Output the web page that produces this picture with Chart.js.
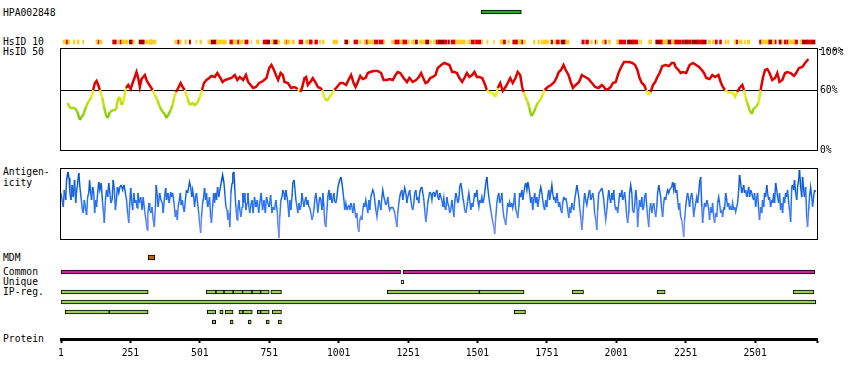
<!DOCTYPE html>
<html><head><meta charset="utf-8">
<script src="https://cdn.jsdelivr.net/npm/chart.js@4.4.1/dist/chart.umd.min.js"></script>
<style>
html,body{margin:0;padding:0;background:#fff;}
body{position:relative;width:850px;height:380px;overflow:hidden;font-family:'DejaVu Sans Mono',monospace;font-size:9.7px;color:#000;}
.lbl{position:absolute;left:3px;line-height:12px;white-space:pre;}
canvas{position:absolute;left:0;}
.dots{position:absolute;left:819px;top:49px;width:26px;height:1px;background:repeating-linear-gradient(90deg,#000 0 3px,transparent 3px 7px);}
</style></head><body>
<div class="lbl" style="top:7px">HPA002848</div>
<div class="lbl" style="top:36px">HsID 10</div>
<div class="lbl" style="top:46px">HsID 50</div>
<div class="lbl" style="top:166px">Antigen-</div>
<div class="lbl" style="top:177px">icity</div>
<div class="lbl" style="top:252px">MDM</div>
<div class="lbl" style="top:266px">Common</div>
<div class="lbl" style="top:276px">Unique</div>
<div class="lbl" style="top:286px">IP-reg.</div>
<div class="lbl" style="top:333px">Protein</div>
<div class="dots"></div>
<script>
// ---------- DATA (residue positions and values) ----------
const PROTEIN_END = 2724;
const proteinTicks = [1,251,501,751,1001,1251,1501,1751,2001,2251,2501];
const hsid50Ticks = [0,60,100];

const antigenRegion = [[1514,1659]];

const hsid10Yellow = [[9,18],[26,33],[45,51],[60,66],[79,83],[127,132],[139,149],[204,210],[221,242],[261,266],[305,314],[317,343],[411,417],[429,435],[447,453],[487,489],[501,507],[530,537],[561,597],[621,633],[643,657],[686,688],[705,715],[759,765],[782,789],[804,811],[815,826],[833,842],[882,894],[932,936],[942,949],[980,997],[1038,1040],[1076,1082],[1091,1098],[1106,1127],[1163,1167],[1192,1199],[1222,1230],[1250,1256],[1264,1275],[1292,1311],[1330,1335],[1343,1350],[1422,1436],[1438,1458],[1466,1475],[1517,1520],[1535,1539],[1559,1562],[1582,1592],[1610,1616],[1647,1658],[1667,1674],[1703,1708],[1718,1724],[1730,1734],[1736,1757],[1778,1783],[1819,1831],[1909,1915],[1930,1934],[1949,1957],[1973,1980],[2002,2009],[2083,2085],[2089,2093],[2117,2129],[2169,2185],[2200,2209],[2332,2341],[2347,2353],[2392,2397],[2402,2407],[2426,2431],[2443,2455],[2463,2467],[2473,2482],[2524,2548],[2563,2569],[2597,2601],[2621,2643],[2663,2669]];
const hsid10Red = [[19,25],[133,137],[187,195],[213,218],[324,327],[421,427],[463,468],[609,621],[637,643],[663,675],[729,740],[811,814],[858,872],[899,906],[915,925],[1056,1070],[1098,1106],[1127,1142],[1146,1163],[1203,1220],[1230,1247],[1352,1357],[1382,1390],[1406,1422],[1478,1490],[1494,1514],[1592,1602],[1628,1640],[1658,1664],[1766,1772],[1784,1796],[1877,1886],[1891,1901],[1925,1927],[1959,1965],[2009,2035],[2059,2078],[2161,2169],[2209,2233],[2236,2245],[2257,2272],[2293,2311],[2357,2365],[2373,2380],[2431,2438],[2517,2524],[2572,2577],[2606,2613],[2643,2654],[2689,2705]];
const hsid10Dark = [[196,200],[247,258],[282,301],[541,561],[740,753],[765,782],[894,899],[1023,1034],[1275,1285],[1314,1326],[1359,1382],[1394,1400],[1640,1647],[1802,1818],[2041,2059],[2143,2161],[2185,2200],[2247,2257],[2275,2293],[2311,2325],[2548,2563],[2587,2597],[2616,2621],[2669,2689],[2705,2717]];

const hsid50 = [[25,47],[33,42],[51,42],[60,38],[69,30],[75,33],[81,35],[91,43],[99,48],[111,53],[117,60],[123,67],[129,69],[135,65],[141,60],[150,52],[156,43],[163,35],[169,32],[177,38],[189,40],[199,40],[207,52],[213,53],[219,45],[225,48],[235,62],[243,65],[252,61],[259,67],[267,73],[273,78],[279,72],[285,63],[291,71],[297,73],[303,75],[309,70],[315,67],[324,63],[331,60],[339,55],[348,50],[357,43],[367,38],[375,36],[381,32],[387,35],[396,40],[403,45],[408,52],[415,58],[423,62],[432,67],[439,63],[447,60],[456,52],[465,45],[475,47],[483,45],[492,47],[501,53],[509,60],[516,67],[525,70],[535,72],[543,74],[555,73],[564,77],[573,73],[583,68],[591,70],[603,71],[615,72],[627,75],[636,70],[645,73],[657,70],[667,75],[675,68],[684,65],[693,62],[703,63],[715,67],[729,69],[741,72],[751,82],[759,85],[768,80],[775,75],[783,70],[792,77],
[800,75],[806,68],[818,67],[830,62],[842,63],[854,61],[863,58],[870,63],[878,72],[884,73],[890,65],[899,68],[908,72],[917,68],[926,63],[935,62],[942,60],[950,52],[959,49],[968,53],[978,57],[986,60],[995,63],[1007,67],[1016,67],[1028,65],[1038,71],[1046,75],[1055,67],[1062,63],[1070,68],[1079,74],[1088,71],[1098,72],[1106,77],[1115,78],[1127,79],[1142,79],[1154,77],[1163,70],[1175,70],[1184,71],[1196,70],[1206,75],[1214,78],[1223,77],[1235,72],[1247,68],[1256,72],[1268,68],[1280,70],[1290,73],[1298,77],[1304,73],[1314,67],[1322,68],[1331,72],[1340,73],[1350,75],[1358,82],[1370,85],[1382,87],[1391,86],[1400,85],[1410,78],[1418,78],[1427,77],[1436,72],[1446,68],[1454,72],[1463,77],[1472,73],[1482,75],[1490,78],[1499,73],[1508,73],[1518,72],[1526,67],[1535,60],[1544,57],[1556,57],[1566,53],[1574,62],[1583,67],[1592,59],[1602,63],[1610,67],[1619,72],[1628,67],[1638,72],[1646,78],[1655,75],[1662,63],[1667,58],[1674,53],[1682,48],[1688,42],[1695,34],[1703,37],[1710,42],[1718,47],[1727,50],[1736,55],[1743,60],[1754,63],[1766,65],[1778,68],[1787,73],[1794,78],[1802,80],[1811,85],
[1819,80],[1829,75],[1837,68],[1845,62],[1855,65],[1867,68],[1877,75],[1889,73],[1901,71],[1913,67],[1925,63],[1937,62],[1949,65],[1957,63],[1963,60],[1973,61],[1981,63],[1989,67],[1999,68],[2009,77],[2017,82],[2029,88],[2047,88],[2059,87],[2069,85],[2077,80],[2085,72],[2093,67],[2101,65],[2109,60],[2117,55],[2125,58],[2133,65],[2141,68],[2149,73],[2157,77],[2167,84],[2179,85],[2191,84],[2201,87],[2209,87],[2215,83],[2225,80],[2233,77],[2241,78],[2253,77],[2265,85],[2277,87],[2289,85],[2299,83],[2309,80],[2317,77],[2325,72],[2337,71],[2347,75],[2357,73],[2369,75],[2377,68],[2385,63],[2393,60],[2401,58],[2409,57],[2419,58],[2429,53],[2437,58],[2445,62],[2455,65],[2461,60],[2467,52],[2473,47],[2481,40],[2489,36],[2497,42],[2505,43],[2513,47],[2521,60],[2529,72],[2537,80],[2545,81],[2553,77],[2563,70],[2573,72],[2581,77],[2589,68],[2599,70],[2609,77],[2617,78],[2629,77],[2641,74],[2649,77],[2659,82],[2671,83],[2681,87],[2693,91]];

const antigenicity = [[1,47],[5,40],[9,33],[13,50],[18,40],[21,60],[26,68],[30,62],[33,47],[37,40],[41,55],[45,43],[50,60],[54,37],[57,48],[61,57],[65,67],[69,53],[73,43],[78,30],[81,27],[85,40],[90,30],[93,25],[97,43],[101,47],[104,60],[108,47],[111,40],[115,53],[119,47],[122,27],[126,40],[129,33],[133,47],[137,58],[141,50],[146,57],[150,40],[153,30],[157,17],[161,40],[165,50],[169,43],[173,57],[177,47],[181,37],[185,40],[189,60],[193,50],[197,30],[200,38],[204,53],[209,47],[213,53],[218,55],[223,50],[228,55],[233,47],[237,40],[241,27],[245,17],[248,33],[252,52],[255,40],[259,30],[263,47],[267,37],[271,40],[275,32],[278,47],[283,37],[288,43],[293,30],[297,43],[302,30],[307,20],[311,10],[314,27],[318,37],[321,30],[325,27],[329,33],[333,20],[337,13],[341,33],[344,55],[348,43],[351,33],[356,47],[361,40],[366,37],[369,27],[374,43],[378,52],[381,40],[386,47],[391,37],[396,48],[399,43],[403,47],[408,37],[413,23],[416,30],[420,20],[423,33],[427,40],[431,47],[434,35],[438,40],[441,33],[445,28],[449,40],[453,50],[457,47],[461,53],[464,58],[468,53],[472,43],[475,50],[479,43],[482,33],[486,43],[489,47],[493,37],[497,27],[500,17],[504,7],[507,23],[511,37],[515,43],[518,52],[522,40],[525,47],[529,33],[533,37],[536,43],[540,23],[543,17],[547,33],[551,47],[554,37],[558,47],[561,40],[565,53],[569,43],[573,50],[578,57],[583,65],[588,57],[591,47],[595,33],[599,30],[602,20],[606,27],[609,13],[613,47],[617,57],[620,67],[624,68],[627,50],[631,33],[635,20],[638,30],[642,40],[645,30],[649,23],[653,33],[656,47],[660,37],[663,47],[667,30],[671,37],[674,47],[678,33],[681,27],[685,35],[689,40],[693,27],[698,43],[703,33],[708,40],[713,27],[717,37],[722,47],[727,30],[732,40],[737,27],[741,43],[746,37],[751,33],[756,45],[761,27],[765,33],[770,30],[775,40],[780,28],[783,13],[786,2],[789,23],[793,40],[797,43],
[800,50],[804,47],[807,40],[811,50],[815,43],[818,37],[822,23],[825,40],[829,30],[833,43],[836,57],[840,60],[843,53],[847,40],[851,33],[854,27],[858,37],[861,30],[865,33],[869,47],[872,40],[876,33],[879,38],[883,43],[887,35],[890,40],[894,33],[897,32],[901,27],[905,20],[908,23],[912,30],[915,40],[919,47],[923,37],[926,27],[930,37],[933,43],[937,40],[941,30],[944,47],[948,33],[951,17],[955,13],[959,30],[962,43],[966,50],[969,40],[973,47],[977,37],[980,40],[984,47],[987,38],[991,37],[995,43],[998,52],[1002,57],[1005,60],[1009,63],[1013,57],[1016,50],[1020,40],[1023,30],[1027,37],[1031,30],[1034,33],[1038,35],[1041,30],[1045,37],[1049,33],[1052,27],[1056,37],[1059,30],[1063,22],[1067,27],[1070,13],[1074,8],[1077,20],[1081,23],[1085,20],[1088,30],[1092,37],[1095,33],[1099,40],[1103,33],[1106,27],[1110,40],[1113,30],[1117,43],[1121,47],[1124,50],[1128,47],[1131,40],[1135,30],[1139,23],[1142,30],[1146,40],[1149,37],[1153,30],[1157,43],[1160,50],[1164,43],[1167,40],[1171,35],[1175,37],[1178,43],[1182,33],[1185,30],[1189,33],[1193,32],[1196,33],[1200,30],[1203,27],[1207,20],[1211,13],[1214,27],[1218,37],[1221,43],[1225,48],[1229,50],[1232,40],[1236,47],[1239,52],[1243,47],[1247,37],[1250,43],[1254,47],[1257,50],[1261,40],[1265,33],[1268,30],[1272,37],[1275,47],[1279,50],[1283,40],[1286,43],[1290,37],[1293,47],[1297,52],[1301,53],[1304,47],[1308,40],[1311,30],[1315,18],[1319,27],[1322,37],[1326,43],[1329,48],[1333,47],[1337,40],[1340,47],[1344,48],[1347,43],[1351,47],[1355,50],[1358,43],[1362,40],[1365,47],[1369,43],[1373,40],[1376,33],[1380,42],[1383,33],[1387,30],[1391,43],[1394,37],[1398,33],[1401,27],[1405,30],[1409,40],[1412,33],[1416,23],[1419,37],[1423,47],[1427,43],[1430,37],[1434,40],[1437,53],[1441,57],[1445,50],[1448,43],[1452,37],[1455,30],[1459,27],[1463,33],[1466,40],[1470,47],[1473,40],[1477,30],[1481,37],[1484,33],[1488,40],[1491,47],[1495,43],[1499,50],[1502,40],[1506,33],[1509,40],[1513,37],[1517,43],[1520,37],[1524,40],[1527,47],[1531,57],[1535,63],[1538,53],[1542,43],[1545,37],[1549,30],[1553,23],[1556,18],[1560,13],[1563,6],[1567,23],[1571,37],[1574,43],[1578,47],[1581,37],[1585,40],[1589,47],[1592,33],[1596,23],[1599,20],[1603,15],[1607,27],[1610,37],[1614,33],[1617,38],[1621,33],[1625,37],[1628,32],[1632,37],[1635,47],[1639,30],[1643,27],[1646,22],[1650,33],[1653,47],[1657,43],[1661,50],[1664,40],[1668,47],[1671,53],[1675,57],[1679,50],[1682,58],[1686,53],[1689,47],[1693,37],[1697,43],[1700,30],[1704,40],[1707,47],[1711,37],[1715,43],[1718,33],[1722,40],[1725,47],[1729,53],[1733,47],[1736,40],[1740,33],[1743,30],[1747,40],[1751,33],[1754,43],[1758,50],[1761,40],[1765,47],[1769,55],[1772,47],[1776,40],[1779,43],[1783,37],[1787,47],[1790,40],[1794,33],[1797,38],[1801,30],[1805,27],[1808,37],[1812,43],[1815,40],
[1819,42],[1823,37],[1826,30],[1830,22],[1833,33],[1837,27],[1841,37],[1844,33],[1848,30],[1851,40],[1855,47],[1859,55],[1862,50],[1866,43],[1869,33],[1873,23],[1877,10],[1880,20],[1884,37],[1887,47],[1891,40],[1895,35],[1898,40],[1902,47],[1905,50],[1909,40],[1913,43],[1916,47],[1920,40],[1923,27],[1927,20],[1931,10],[1934,30],[1938,47],[1941,48],[1945,50],[1949,52],[1952,48],[1956,40],[1959,30],[1963,20],[1967,30],[1970,40],[1974,50],[1977,43],[1981,37],[1985,47],[1988,40],[1992,50],[1995,37],[1999,30],[2003,33],[2006,27],[2010,37],[2013,47],[2017,43],[2021,50],[2024,40],[2028,43],[2031,48],[2035,37],[2039,23],[2042,17],[2046,27],[2049,47],[2053,55],[2057,47],[2060,30],[2064,27],[2067,33],[2071,50],[2075,40],[2078,13],[2082,30],[2085,40],[2089,33],[2093,43],[2096,30],[2100,33],[2103,43],[2107,47],[2111,33],[2114,23],[2118,13],[2121,30],[2125,37],[2129,27],[2132,33],[2136,37],[2139,30],[2143,23],[2147,33],[2150,47],[2154,55],[2157,50],[2161,43],[2165,30],[2168,23],[2172,37],[2175,43],[2179,40],[2183,47],[2186,50],[2190,47],[2193,50],[2197,52],[2201,53],[2204,58],[2208,50],[2211,57],[2215,47],[2219,50],[2222,40],[2226,30],[2229,37],[2233,23],[2237,20],[2240,13],[2244,3],[2247,20],[2251,33],[2255,43],[2258,47],[2262,40],[2265,33],[2269,43],[2273,47],[2276,40],[2280,23],[2283,30],[2287,37],[2291,43],[2294,37],[2298,47],[2301,57],[2305,63],[2309,33],[2312,17],[2316,30],[2319,37],[2323,33],[2327,40],[2330,37],[2334,30],[2337,20],[2341,33],[2345,27],[2348,37],[2352,23],[2355,17],[2359,27],[2363,23],[2366,37],[2370,43],[2373,37],[2377,27],[2381,30],[2384,23],[2388,33],[2391,30],[2395,47],[2399,40],[2402,33],[2406,37],[2409,30],[2413,33],[2417,30],[2420,37],[2424,30],[2427,33],[2431,28],[2435,33],[2438,37],[2442,50],[2445,65],[2449,57],[2453,47],[2456,50],[2460,55],[2463,47],[2467,50],[2471,43],[2474,47],[2478,53],[2481,43],[2485,50],[2489,47],[2492,43],[2496,40],[2499,47],[2503,33],[2507,42],[2510,47],[2514,30],[2517,20],[2521,33],[2525,27],[2528,40],[2532,33],[2535,47],[2539,43],[2543,55],[2546,47],[2550,40],[2553,43],[2557,33],[2561,40],[2564,37],[2568,47],[2571,37],[2575,57],[2579,50],[2582,43],[2586,37],[2589,47],[2593,30],[2597,37],[2600,27],[2604,43],[2607,37],[2611,47],[2615,43],[2618,50],[2622,37],[2625,30],[2629,18],[2633,53],[2636,55],[2640,50],[2643,60],[2647,47],[2651,40],[2654,53],[2658,60],[2661,70],[2665,53],[2669,43],[2672,63],[2676,50],[2679,43],[2683,53],[2687,23],[2690,13],[2694,30],[2697,43],[2701,53],[2705,43],[2708,33],[2712,43],[2715,50],[2719,48]];

const mdm = [[315,339]];
const common = [[1,1224],[1233,2716]];
const unique = [[1226,1235]];
const ipReg1 = [[1,315],[524,559],[559,588],[588,621],[621,655],[655,689],[689,720],[720,751],[757,795],[1176,1508],[1508,1669],[1842,1883],[2148,2177],[2638,2713]];
const ipReg2 = [[1,2720]];
const ipReg3 = [[16,175],[175,315],[528,558],[573,585],[592,621],[642,656],[656,690],[708,720],[720,751],[762,795],[1633,1674]];
const ipReg4 = [[546,558],[610,621],[675,686],[740,751],[783,795]];

// ---------- RENDERING ----------
const FONT = {family: "'DejaVu Sans Mono', monospace", size: 9.7};
const PAD_L = 61, PAD_R = 33;

function addCanvas(top, h) {
  const c = document.createElement('canvas');
  c.width = 850; c.height = h;
  c.style.top = top + 'px'; c.style.width = '850px'; c.style.height = h + 'px';
  document.body.appendChild(c);
  return c;
}
function xScale() { return {type: 'linear', min: 1, max: PROTEIN_END, display: false}; }
const basePlugins = {legend: {display: false}, tooltip: {enabled: false}};

const boxPlugin = {
  id: 'box',
  afterDatasetsDraw(chart, args, opts) {
    if (!opts || !opts.on) return;
    const {ctx, chartArea: a} = chart;
    ctx.save();
    ctx.strokeStyle = '#000'; ctx.lineWidth = 1;
    ctx.strokeRect(a.left - 0.5, a.top - 0.5, a.right - a.left + 1, a.bottom - a.top + 1);
    ctx.restore();
  }
};

function segs(list, row, color, opt) {
  return Object.assign({
    data: list.map(([s, e]) => ({x: [s, e], y: row})),
    backgroundColor: color,
    borderColor: '#000',
    borderWidth: 1,
    borderSkipped: false,
    barThickness: 4,
    grouped: false
  }, opt || {});
}

function trackChart(top, h, labels, datasets) {
  return new Chart(addCanvas(top, h), {
    type: 'bar',
    data: {labels, datasets},
    options: {
      indexAxis: 'y', responsive: false, animation: false, events: [],
      layout: {padding: {left: PAD_L, right: PAD_R, top: 0, bottom: 0}},
      scales: {x: xScale(), y: {type: 'category', display: false}},
      plugins: basePlugins
    }
  });
}

// antigen (PrEST) region bar
trackChart(8, 8, ['antigen'], [segs(antigenRegion, 'antigen', '#22aa22')]);

// HsID 10 heat strip
trackChart(38, 8, ['HsID 10'], [
  segs(hsid10Yellow, 'HsID 10', '#ffcc22', {borderWidth: 0}),
  segs(hsid10Red, 'HsID 10', '#e00000', {borderWidth: 0}),
  segs(hsid10Dark, 'HsID 10', '#a00000', {borderWidth: 0})
]);

function lerp(a, b, t) { return a.map((v, i) => Math.round(v + (b[i] - v) * t)); }
function hsidColor(v) {
  if (v >= 60) return '#e00000';
  const t = Math.max(0, Math.min(1, (v - 30) / 28));
  return 'rgb(' + lerp([110, 200, 0], [240, 240, 30], t) + ')';
}
function agColor(v) {
  if (v <= 35) return 'rgb(' + lerp([160, 150, 255], [40, 115, 245], Math.max(0, v) / 35) + ')';
  return 'rgb(' + lerp([40, 115, 245], [0, 80, 200], Math.min(1, (v - 35) / 30)) + ')';
}

// HsID 50 panel
new Chart(addCanvas(39, 121), {
  type: 'line',
  data: {datasets: [{
    data: hsid50.map(([x, y]) => ({x, y})),
    borderWidth: 2.5, pointRadius: 0, borderColor: '#e00000', tension: 0, fill: false,
    segment: {borderColor: c => hsidColor((c.p0.parsed.y + c.p1.parsed.y) / 2)}
  }]},
  options: {
    responsive: false, animation: false, events: [],
    layout: {padding: {left: PAD_L, right: 0, top: 10, bottom: 10}},
    scales: {
      x: xScale(),
      y: {
        position: 'right', min: 0, max: 101,
        afterBuildTicks: s => { s.ticks = hsid50Ticks.map(v => ({value: v})); },
        afterFit: s => { s.width = PAD_R; },
        ticks: {
          color: '#000', padding: 3,
          // the top label sits just inside the box, as in the original
          font: c => (c.tick && c.tick.value === 100) ? Object.assign({}, FONT, {lineHeight: 0.557}) : FONT,
          callback: v => v === 100 ? ['', v + '%'] : v + '%'
        },
        grid: {drawTicks: false, lineWidth: 1, color: c => (c.tick && c.tick.value === 60) ? '#000' : 'rgba(0,0,0,0)'},
        border: {display: false}
      }
    },
    plugins: Object.assign({box: {on: true}}, basePlugins)
  },
  plugins: [boxPlugin]
});

// Antigenicity panel
new Chart(addCanvas(159, 90), {
  type: 'line',
  data: {datasets: [{
    data: antigenicity.map(([x, y]) => ({x, y})),
    borderWidth: 1.5, pointRadius: 0, borderColor: '#2a75f0', tension: 0, fill: false,
    segment: {borderColor: c => agColor((c.p0.parsed.y + c.p1.parsed.y) / 2)}
  }]},
  options: {
    responsive: false, animation: false, events: [],
    layout: {padding: {left: PAD_L, right: PAD_R, top: 10, bottom: 10}},
    scales: {x: xScale(), y: {min: 1, max: 71, display: false}},
    plugins: Object.assign({box: {on: true}}, basePlugins)
  },
  plugins: [boxPlugin]
});

// MDM
trackChart(253, 9, ['MDM'], [segs(mdm, 'MDM', '#bb6600', {barThickness: 5})]);

// Common / Unique / IP-reg. rows
const rows = ['Common', 'Unique', 'IP-reg. 1', 'IP-reg. 2', 'IP-reg. 3', 'IP-reg. 4'];
trackChart(267, 60, rows, [
  segs(common, 'Common', '#cc2299'),
  segs(unique, 'Unique', '#ffffff'),
  segs(ipReg1, 'IP-reg. 1', '#99cc55'),
  segs(ipReg2, 'IP-reg. 2', '#99cc55'),
  segs(ipReg3, 'IP-reg. 3', '#99cc55'),
  segs(ipReg4, 'IP-reg. 4', '#99cc55')
]);

// Protein axis
new Chart(addCanvas(300, 70), {
  type: 'line',
  data: {datasets: []},
  options: {
    responsive: false, animation: false, events: [],
    layout: {padding: {left: PAD_L, right: PAD_R, top: 0, bottom: 0}},
    scales: {
      x: {
        type: 'linear', min: 1, max: PROTEIN_END, position: 'bottom',
        afterBuildTicks: s => { s.ticks = proteinTicks.concat([PROTEIN_END]).map(v => ({value: v})); },
        afterFit: s => { s.height = 31; },
        ticks: {autoSkip: false, maxRotation: 0, padding: 5, font: FONT, color: '#000',
                callback: v => proteinTicks.includes(v) ? String(v) : ''},
        grid: {display: true, drawOnChartArea: false, drawTicks: true, tickLength: 4, tickWidth: 2, tickColor: '#000', color: '#000'},
        border: {display: true, color: '#000', width: 3}
      },
      y: {display: false}
    },
    plugins: basePlugins
  }
});
</script>
</body></html>
